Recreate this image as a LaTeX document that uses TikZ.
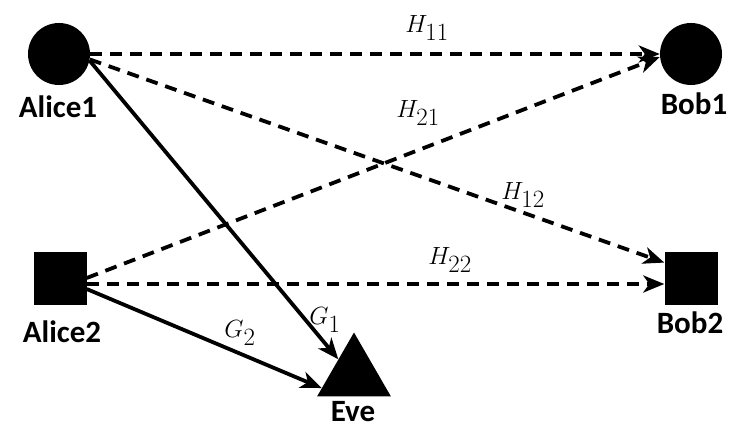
\documentclass[tikz,border=0pt]{standalone}
\usepackage{fontspec}
\setmainfont{Carlito}
\usetikzlibrary{arrows.meta,shapes.geometric}
\tikzset{party/.style={fill=black,draw=none,inner sep=0pt},
user/.style={party,circle,minimum size=62pt},
relay/.style={party,rectangle,minimum size=53pt},
eavesdropper/.style={party,regular polygon,regular polygon sides=3,minimum size=85pt},
who/.style={font=\fontsize{31}{36}\selectfont\bfseries,anchor=base,inner sep=0pt},
gain/.style={font=\fontsize{35}{40}\selectfont,inner sep=0pt},
chan/.style={line width=3.8pt,dash pattern=on 12pt off 8pt,-{Stealth[length=21pt,width=17pt,inset=6pt]}},
leak/.style={line width=3.8pt,-{Stealth[length=21pt,width=17pt,inset=6pt]}}}

\begin{document}
\begin{tikzpicture}[x=1pt,y=-1pt]
\useasboundingbox (0,0) rectangle (736,433);
\node[user] (a1) at (59,54) {};
\node[user] (b1) at (691,54) {};
\node[relay] (a2) at (60,278) {};
\node[relay] (b2) at (691,278) {};
\node[eavesdropper] (e) at (354,375) {};
\node[who] (a1t) at (58,118) {Alice1};
\node[who] (b1t) at (694,115) {Bob1};
\node[who] (a2t) at (62,342) {Alice2};
\node[who] (b2t) at (690,333) {Bob2};
\node[who] (et) at (353,421) {Eve};
\draw[chan] (a1.east)--(b1.west);
\draw[chan] (a1.-10)--(b2.150);
\draw[chan] (a2.east)--([yshift=-3pt]b1.west);
\draw[chan] ([yshift=-6pt]a2.east)--([yshift=-6pt]b2.west);
\draw[leak] (a1.-12)--(e.135);
\draw[leak] ([yshift=-11pt]a2.east)--(e.202);
\node[gain] (h11) at (427,28) {$H_{11}$};
\node[gain] (h21) at (418,113) {$H_{21}$};
\node[gain] (h12) at (523,195) {$H_{12}$};
\node[gain] (h22) at (450,260) {$H_{22}$};
\node[gain] (g1) at (325,320) {$G_1$};
\node[gain] (g2) at (240,333) {$G_2$};
\end{tikzpicture}
\end{document}
